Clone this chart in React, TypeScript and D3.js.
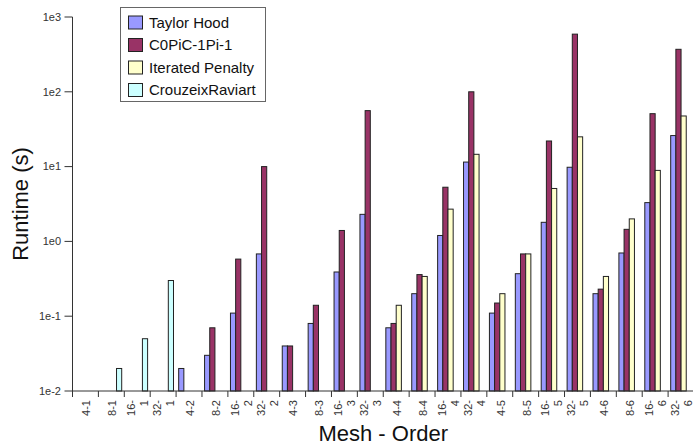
import React from 'react';
import * as d3 from 'd3';

const categories = [
  '4-1', '8-1', '16-1', '32-1',
  '4-2', '8-2', '16-2', '32-2',
  '4-3', '8-3', '16-3', '32-3',
  '4-4', '8-4', '16-4', '32-4',
  '4-5', '8-5', '16-5', '32-5',
  '4-6', '8-6', '16-6', '32-6',
];

const taylorHood = [null, null, null, null, 0.02, 0.03, 0.11, 0.68, 0.04, 0.08, 0.39, 2.3, 0.07, 0.2, 1.2, 11.5, 0.11, 0.37, 1.8, 9.8, 0.2, 0.7, 3.3, 26];
const c0pic = [null, null, null, null, null, 0.07, 0.58, 10, 0.04, 0.14, 1.4, 56, 0.08, 0.36, 5.3, 100, 0.15, 0.68, 22, 590, 0.23, 1.45, 51, 370];
const iteratedPenalty = [null, null, null, null, null, null, null, null, null, null, null, null, 0.14, 0.34, 2.7, 14.6, 0.2, 0.68, 5.1, 25, 0.34, 2.0, 8.9, 47.5];
const crouzeixRaviart = [null, 0.02, 0.05, 0.3, null, null, null, null, null, null, null, null, null, null, null, null, null, null, null, null, null, null, null, null];

const seriesNames = ['Taylor Hood', 'C0PiC-1Pi-1', 'Iterated Penalty', 'CrouzeixRaviart'];
const seriesColors = ['#9999ff', '#993366', '#ffffcc', '#ccffff'];
const seriesValues = [taylorHood, c0pic, iteratedPenalty, crouzeixRaviart];

const yTickValues = [0.01, 0.1, 1, 10, 100, 1000];
const yTickLabels = ['1e-2', '1e-1', '1e0', '1e1', '1e2', '1e3'];

const W = 693, H = 447;
const left = 72.5, right = 694, top = 17, bottom = 391;
const font = 'Liberation Sans, Arial, sans-serif';

export default function App() {
  const x0 = d3.scaleBand<string>().domain(categories).range([left, right]).padding(0);
  const x1 = d3.scaleBand<string>().domain(seriesNames).range([0, x0.bandwidth()])
    .paddingInner(0).paddingOuter(0.5);
  const y = d3.scaleLog().domain([0.01, 1000]).range([bottom, top]);

  return (
    <svg width={W} height={H} style={{ position: 'absolute', left: 0, top: 0, background: '#fff' }}
      fontFamily={font}>
      {/* bars */}
      {seriesValues.map((vals, si) => (
        <g key={si}>
          {vals.map((v, i) => {
            if (v == null) return null;
            const bx = x0(categories[i])! + x1(seriesNames[si])!;
            const by = y(v);
            return <rect key={i} x={bx} y={by} width={x1.bandwidth()} height={bottom - by}
              fill={seriesColors[si]} stroke="#222" strokeWidth={1} />;
          })}
        </g>
      ))}

      {/* y axis */}
      <line x1={left} x2={left} y1={top} y2={bottom} stroke="#333" />
      {yTickValues.map((t, i) => (
        <g key={t}>
          <line x1={left - 8} x2={left} y1={y(t)} y2={y(t)} stroke="#333" />
          <text x={61} y={y(t)} dy="0.35em" textAnchor="end" fontSize={11} fill="#333">{yTickLabels[i]}</text>
        </g>
      ))}

      {/* x axis */}
      <line x1={left} x2={right} y1={bottom} y2={bottom} stroke="#333" />
      {categories.map((c) => {
        const bx = x0(c)!;
        const cx = bx + x0.bandwidth() / 2;
        const parts = c.length > 3 ? [c.slice(0, 3), c.slice(3)] : [c];
        return (
          <g key={c}>
            <line x1={bx} x2={bx} y1={bottom} y2={bottom + 6} stroke="#333" />
            {parts.map((p, j) => {
              const tx = parts.length === 1 ? cx + 1 : cx - 6 + j * 13;
              return (
                <text key={j} transform={`translate(${tx},${bottom + 9}) rotate(-90)`} dy="0.35em"
                  textAnchor="end" fontSize={11} fill="#333">{p}</text>
              );
            })}
          </g>
        );
      })}

      {/* axis titles */}
      <text transform={`translate(${(left + right) / 2},441)`} textAnchor="middle" fontSize={22} fill="#111">Mesh - Order</text>
      <text transform={`translate(28,${(top + bottom) / 2}) rotate(-90)`} textAnchor="middle" fontSize={22} fill="#111">Runtime (s)</text>

      {/* legend */}
      <rect x={120.5} y={7.5} width={145} height={94} fill="#fff" stroke="#666" />
      {seriesNames.map((s, i) => {
        const ly = 22.5 + i * 22.5;
        return (
          <g key={s}>
            <rect x={128.5} y={ly - 6.5} width={14} height={13} fill={seriesColors[i]} stroke="#222" />
            <text x={149} y={ly} dy="0.35em" fontSize={15} fill="#111">{s}</text>
          </g>
        );
      })}
    </svg>
  );
}
